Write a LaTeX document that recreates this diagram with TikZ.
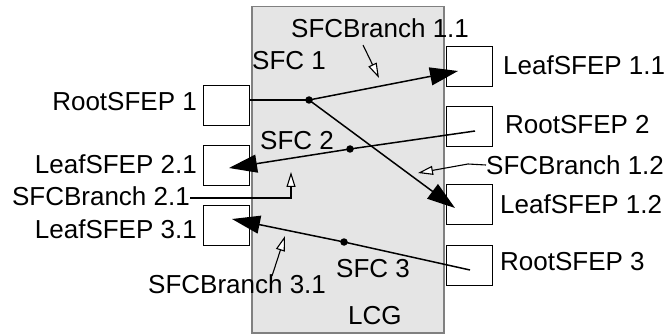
\documentclass[tikz,border=0pt]{standalone}
\usepackage{fontspec}
\setmainfont{Liberation Sans}
\usetikzlibrary{arrows.meta}
\begin{document}
\begin{tikzpicture}[x=1pt,y=-1pt,
  ep/.style={draw=black,line width=1.3pt,fill=white,minimum width=46pt,minimum height=40pt,inner sep=0pt,anchor=north west},
  lbl/.style={inner sep=0pt,font=\fontsize{26}{30}\selectfont},
  conn/.style={line width=1.5pt,-{Triangle[length=28pt,width=18pt]}},
  plain/.style={line width=1.5pt},
  lead/.style={line width=1.1pt,-{Triangle[open,length=15pt,width=9pt,line width=1.1pt,fill=white]}},
  dot/.style={circle,fill=black,inner sep=0pt,minimum size=7.5pt}]
\useasboundingbox (0,0) rectangle (667,334);
% LCG
\node[draw=black!50,fill=black!10,line width=1.5pt,minimum width=192pt,minimum height=326pt,inner sep=0pt,anchor=north west] (lcg) at (251,6) {};
% endpoint boxes
\node[ep] (r1) at (203,85) {};
\node[ep] (l21) at (203,145) {};
\node[ep] (l31) at (203,205) {};
\node[ep] (l11) at (446,46) {};
\node[ep] (r2) at (446,106) {};
\node[ep] (l12) at (446,184) {};
\node[ep] (r3) at (446,245) {};
% labels
\node[lbl,anchor=east] (tr1) at (197,102) {RootSFEP 1};
\node[lbl,anchor=east] (tl21) at (197,164) {LeafSFEP 2.1};
\node[lbl,anchor=east] (tb21) at (190,196) {SFCBranch 2.1};
\node[lbl,anchor=east] (tl31) at (197,229) {LeafSFEP 3.1};
\node[lbl,anchor=west] (tb31) at (148,284) {SFCBranch 3.1};
\node[lbl,anchor=west] (tl11) at (503,65) {LeafSFEP 1.1};
\node[lbl,anchor=west] (tr2) at (505,125) {RootSFEP 2};
\node[lbl,anchor=west] (tb12) at (486,165) {SFCBranch 1.2};
\node[lbl,anchor=west] (tl12) at (500,204.5) {LeafSFEP 1.2};
\node[lbl,anchor=west] (tr3) at (500,262) {RootSFEP 3};
\node[lbl,anchor=west] (tb11) at (291,28) {SFCBranch 1.1};
\node[lbl,anchor=west] (s1) at (252,61) {SFC 1};
\node[lbl,anchor=west] (s2) at (260,141) {SFC 2};
\node[lbl,anchor=west] (s3) at (336,269) {SFC 3};
\node[lbl,anchor=west] (tlcg) at (348,316) {LCG};
% branch points and end points
\node[dot] (d1) at (309,100) {};
\node[dot] (d2) at (350,149) {};
\node[dot] (d3) at (344,242) {};
\coordinate (e11) at (458,71);
\coordinate (e12) at (455,208);
\coordinate (s2in) at (475,131);
\coordinate (e21) at (229,168);
\coordinate (s3in) at (470,270);
\coordinate (e31) at (232,219);
% SFC 1
\draw[plain] (d1 -| r1.east) -- (d1.center);
\draw[conn] (d1.center) -- (e11);
\draw[conn] (d1.center) -- (e12);
% SFC 2
\draw[conn] (s2in) -- (d2.center) -- (e21);
% SFC 3
\draw[conn] (s3in) -- (d3.center) -- (e31);
% branch leaders
\coordinate (a11s) at (363,45);
\coordinate (a11e) at (379,78);
\draw[lead] (a11s) -- (a11e);
\coordinate (a12k) at (468,164);
\coordinate (a12e) at (418,173);
\draw[lead] (tb12.west) -- (a12k) -- (a12e);
\coordinate (a21k) at (291,198);
\coordinate (a21e) at (291,172);
\draw[lead] (tb21.east |- a21k) -- (a21k) -- (a21e);
\coordinate (a31s) at (272,276);
\coordinate (a31e) at (285,236);
\draw[lead] (a31s) -- (a31e);
\end{tikzpicture}
\end{document}
